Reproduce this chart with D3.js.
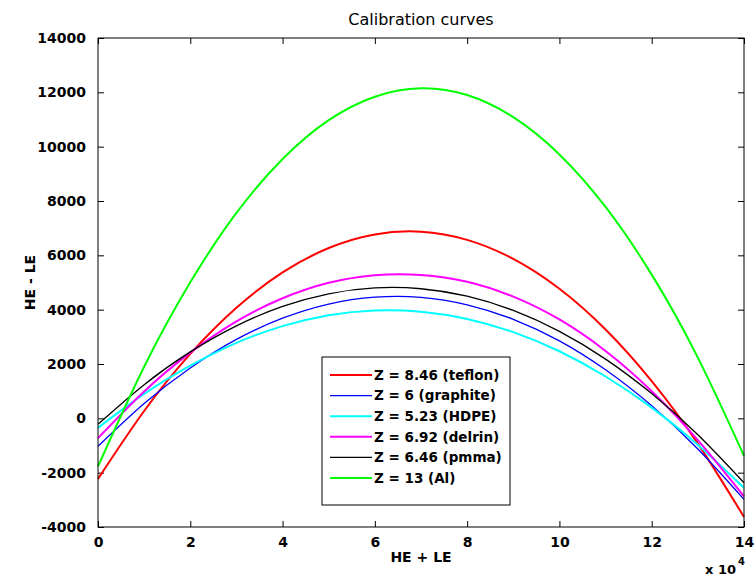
<html>
    <head>
        <meta charset="utf-8">
        <title>Calibration curves</title>
        <style>
            body { margin: 0; background: #fff; }
            .chart text { font-family: "DejaVu Sans", sans-serif; fill: #000; }
            .tick text { font-size: 14px; font-weight: bold; }
            .domain { display: none; }
        </style>
    </head>
    <body>
        <svg class="chart"></svg>
        <script src="https://d3js.org/d3.v7.min.js"></script>
        <script>
            // HE + LE in units of 10^4
            var xValues = [0, 1, 2, 3, 4, 5, 6, 7, 8, 9, 10, 11, 12, 13, 14];

            var teflon   = [-2230, 270, 2370, 4070, 5370, 6270, 6770, 6870, 6570, 5870, 4770, 3270, 1370, -930, -3630];
            var graphite = [-1030, 545, 1855, 2905, 3685, 4205, 4460, 4455, 4180, 3645, 2850, 1785, 460, -1130, -2985];
            var hdpe     = [-350, 900, 1940, 2780, 3395, 3795, 3970, 3925, 3660, 3175, 2470, 1540, 395, -975, -2565];
            var delrin   = [-730, 990, 2420, 3570, 4420, 4990, 5270, 5280, 5030, 4480, 3640, 2480, 1000, -800, -2870];
            var pmma     = [-220, 1240, 2445, 3405, 4120, 4585, 4800, 4770, 4495, 3970, 3200, 2180, 910, -605, -2370];
            var al       = [-1770, 1900, 5010, 7560, 9545, 10975, 11840, 12150, 11900, 11085, 9715, 7780, 5290, 2235, -1380];

            var legendLabels = ['Z = 8.46 (teflon)', 'Z = 6 (graphite)', 'Z = 5.23 (HDPE)',
                                'Z = 6.92 (delrin)', 'Z = 6.46 (pmma)', 'Z = 13 (Al)'];
            var xTicks = [0, 2, 4, 6, 8, 10, 12, 14];
            var yTicks = [-4000, -2000, 0, 2000, 4000, 6000, 8000, 10000, 12000, 14000];

            var series = [
                { name: legendLabels[0], values: teflon,   color: '#ff0000', width: 2 },
                { name: legendLabels[1], values: graphite, color: '#0000ff', width: 1.3 },
                { name: legendLabels[2], values: hdpe,     color: '#00ffff', width: 2 },
                { name: legendLabels[3], values: delrin,   color: '#ff00ff', width: 2 },
                { name: legendLabels[4], values: pmma,     color: '#000000', width: 1.3 },
                { name: legendLabels[5], values: al,       color: '#00ff00', width: 2 }
            ];

            var plotLeft = 98, plotRight = 744, plotTop = 38, plotBottom = 527;

            var chart = d3.select('.chart')
                .attr('width', 755)
                .attr('height', 576);

            var x = d3.scaleLinear().domain([0, 14]).range([plotLeft, plotRight]);
            var y = d3.scaleLinear().domain([-4000, 14000]).range([plotBottom, plotTop]);

            // axes, MATLAB style ticks pointing inwards
            chart.append('g')
                .attr('transform', 'translate(0,' + plotBottom + ')')
                .call(d3.axisBottom(x).tickValues(xTicks).tickSizeInner(-6).tickPadding(10));
            chart.append('g')
                .attr('transform', 'translate(0,' + plotTop + ')')
                .call(d3.axisTop(x).tickValues(xTicks).tickSizeInner(-6).tickFormat(''));
            chart.append('g')
                .attr('transform', 'translate(' + plotLeft + ',0)')
                .call(d3.axisLeft(y).tickValues(yTicks)
                    .tickFormat(function(d) { return String(d); })
                    .tickSizeInner(-6).tickPadding(12));
            chart.append('g')
                .attr('transform', 'translate(' + plotRight + ',0)')
                .call(d3.axisRight(y).tickValues(yTicks).tickSizeInner(-6).tickFormat(''));

            chart.selectAll('.tick line').attr('stroke', '#000');

            var line = d3.line()
                .x(function(d, i) { return x(xValues[i]); })
                .y(function(d) { return y(d); })
                .curve(d3.curveNatural);

            chart.selectAll('path.curve')
                .data(series)
                .enter()
                .append('path')
                .attr('class', 'curve')
                .attr('fill', 'none')
                .attr('stroke', function(d) { return d.color; })
                .attr('stroke-width', function(d) { return d.width; })
                .attr('d', function(d) { return line(d.values); });

            // plot box
            chart.append('rect')
                .attr('x', plotLeft).attr('y', plotTop)
                .attr('width', plotRight - plotLeft).attr('height', plotBottom - plotTop)
                .attr('fill', 'none').attr('stroke', '#000').attr('stroke-width', 1);

            // legend
            var legend = chart.append('g').attr('transform', 'translate(322,357)');
            legend.append('rect')
                .attr('width', 188).attr('height', 148)
                .attr('fill', '#fff').attr('stroke', '#000');
            var items = legend.selectAll('g.item')
                .data(series)
                .enter()
                .append('g')
                .attr('transform', function(d, i) { return 'translate(0,' + (18 + i * 20.6) + ')'; });
            items.append('line')
                .attr('x1', 8).attr('x2', 50)
                .attr('stroke', function(d) { return d.color; })
                .attr('stroke-width', function(d) { return d.width; });
            items.append('text')
                .attr('x', 52).attr('dy', '0.36em')
                .style('font-size', '13.5px').style('font-weight', 'bold')
                .text(function(d) { return d.name; });

            // titles
            chart.append('text')
                .attr('x', (plotLeft + plotRight) / 2).attr('y', 25)
                .attr('text-anchor', 'middle')
                .style('font-size', '16px')
                .text('Calibration curves');
            chart.append('text')
                .attr('x', (plotLeft + plotRight) / 2).attr('y', 562)
                .attr('text-anchor', 'middle')
                .style('font-size', '14px').style('font-weight', 'bold')
                .text('HE + LE');
            chart.append('text')
                .attr('transform', 'translate(35,' + ((plotTop + plotBottom) / 2) + ') rotate(-90)')
                .attr('text-anchor', 'middle')
                .style('font-size', '14px').style('font-weight', 'bold')
                .text('HE - LE');
            chart.append('text')
                .attr('x', 736).attr('y', 574)
                .attr('text-anchor', 'end')
                .style('font-size', '13px').style('font-weight', 'bold')
                .text('x 10');
            chart.append('text')
                .attr('x', 738).attr('y', 565)
                .style('font-size', '10px').style('font-weight', 'bold')
                .text('4');
        </script>
    </body>
</html>
